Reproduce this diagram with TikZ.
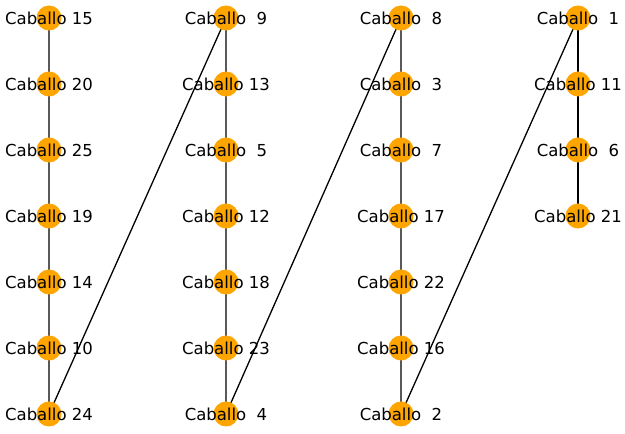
\documentclass[tikz,border=0pt]{standalone}
\usepackage{fontspec}
\setmainfont{DejaVu Sans}
\usetikzlibrary{backgrounds}
\definecolor{nodeorange}{HTML}{FFA500}
\tikzset{
  horse/.style={circle, fill=nodeorange, draw=none, minimum size=25pt, inner sep=0pt},
  lab/.style={font=\fontsize{16.5}{18}\selectfont, text=black, inner sep=0pt},
  edge/.style={draw=black, line width=1.3pt}
}
\newcommand{\hn}[4]{\node[horse, label={[lab]center:Caballo#4}] (#1) at (#2,#3) {};}
\begin{document}
\begin{tikzpicture}[x=1pt,y=1pt]
\useasboundingbox (0,0) rectangle (625,434);
% column 1
\hn{n15}{49}{416}{ 15}
\hn{n20}{49}{350}{ 20}
\hn{n25}{49}{284}{ 25}
\hn{n19}{49}{218}{ 19}
\hn{n14}{49}{152}{ 14}
\hn{n10}{49}{86}{ 10}
\hn{n24}{49}{20}{ 24}
% column 2
\hn{n9}{226}{416}{\ \ 9}
\hn{n13}{226}{350}{ 13}
\hn{n5}{226}{284}{\ \ 5}
\hn{n12}{226}{218}{ 12}
\hn{n18}{226}{152}{ 18}
\hn{n23}{226}{86}{ 23}
\hn{n4}{226}{20}{\ \ 4}
% column 3
\hn{n8}{401}{416}{\ \ 8}
\hn{n3}{401}{350}{\ \ 3}
\hn{n7}{401}{284}{\ \ 7}
\hn{n17}{401}{218}{ 17}
\hn{n22}{401}{152}{ 22}
\hn{n16}{401}{86}{ 16}
\hn{n2}{401}{20}{\ \ 2}
% column 4
\hn{n1}{578}{416}{\ \ 1}
\hn{n11}{578}{350}{ 11}
\hn{n6}{578}{284}{\ \ 6}
\hn{n21}{578}{218}{ 21}
\begin{scope}[on background layer]
\draw[edge] (n15.center) -- (n20.center) -- (n25.center) -- (n19.center) -- (n14.center) -- (n10.center) -- (n24.center) -- (n9.center);
\draw[edge] (n9.center) -- (n13.center) -- (n5.center) -- (n12.center) -- (n18.center) -- (n23.center) -- (n4.center) -- (n8.center);
\draw[edge] (n8.center) -- (n3.center) -- (n7.center) -- (n17.center) -- (n22.center) -- (n16.center) -- (n2.center) -- (n1.center);
\draw[edge] (n1.center) -- (n11.center) -- (n6.center) -- (n21.center);
\end{scope}
\end{tikzpicture}
\end{document}
